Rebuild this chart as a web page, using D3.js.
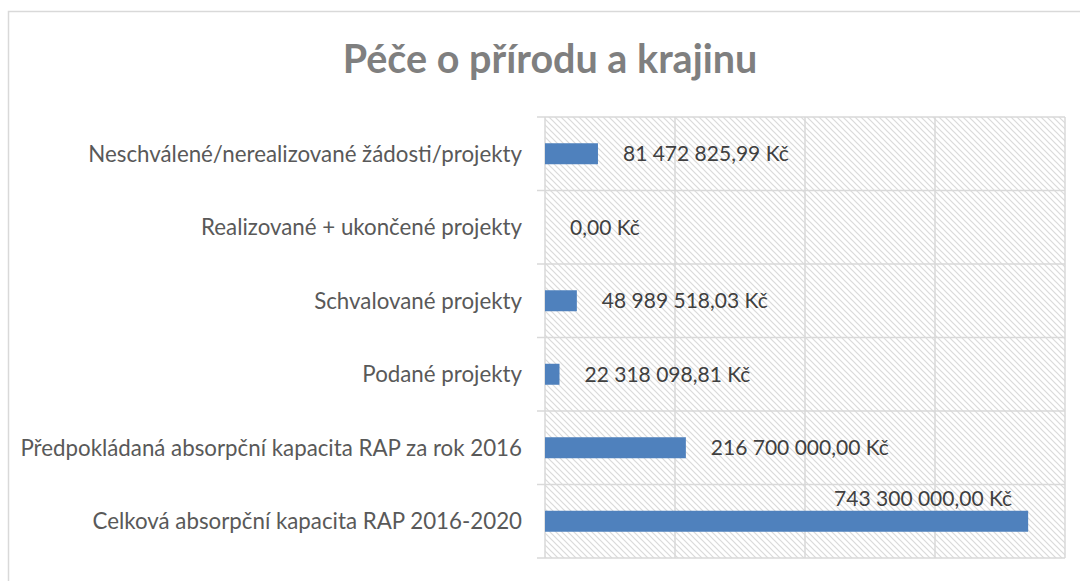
<!DOCTYPE html>
<html>
<head>
<meta charset="utf-8">
<script src="https://cdn.jsdelivr.net/npm/d3@7"></script>
<style>
  html, body { margin: 0; padding: 0; background: #ffffff; }
  svg { display: block; }
</style>
</head>
<body>
<svg id="chart" width="1080" height="581"></svg>
<script>
const title = "Péče o přírodu a krajinu";
const categories = [
  "Neschválené/nerealizované žádosti/projekty",
  "Realizované + ukončené projekty",
  "Schvalované projekty",
  "Podané projekty",
  "Předpokládaná absorpční kapacita RAP za rok 2016",
  "Celková absorpční kapacita RAP 2016-2020"
];
const values = [81472825.99, 0, 48989518.03, 22318098.81, 216700000, 743300000];
const gridTicks = [0, 200000000, 400000000, 600000000, 800000000];

const FONT = "Lato, 'Open Sans', sans-serif";
const svg = d3.select("#chart");

const plot = { left: 545, right: 1065, top: 117, bottom: 558 };

svg.append("rect").attr("x", 0).attr("y", 0).attr("width", 1080).attr("height", 581).attr("fill", "#fff");
svg.append("rect").attr("x", 8.5).attr("y", 11.5).attr("width", 1200).attr("height", 700)
  .attr("fill", "none").attr("stroke", "#d9d9d9").attr("stroke-width", 1.5);

const defs = svg.append("defs");
const pat = defs.append("pattern").attr("id", "hatch").attr("patternUnits", "userSpaceOnUse")
  .attr("width", 6).attr("height", 6);
pat.append("rect").attr("width", 6).attr("height", 6).attr("fill", "#fff");
pat.append("path").attr("d", "M0,0L6,6M-1,5L1,7M5,-1L7,1")
  .attr("stroke", "#dadada").attr("stroke-width", 1.2);

const x = d3.scaleLinear().domain([0, 800000000]).range([plot.left, plot.right]);
const y = d3.scaleBand().domain(categories).range([plot.top, plot.bottom]).paddingInner(0).paddingOuter(0);

svg.append("rect").attr("x", plot.left).attr("y", plot.top)
  .attr("width", plot.right - plot.left).attr("height", plot.bottom - plot.top)
  .attr("fill", "url(#hatch)");

svg.append("g").selectAll("line").data(gridTicks).join("line")
  .attr("x1", d => x(d)).attr("x2", d => x(d))
  .attr("y1", plot.top).attr("y2", plot.bottom)
  .attr("stroke", "#d9d9d9").attr("stroke-width", 1.5);

const bounds = categories.map(c => y(c)).concat([plot.bottom]);
svg.append("g").selectAll("line").data(bounds).join("line")
  .attr("x1", plot.left - 8).attr("x2", plot.right)
  .attr("y1", d => d).attr("y2", d => d)
  .attr("stroke", "#d9d9d9").attr("stroke-width", 1.5);

const barH = y.bandwidth() / 3.5;
svg.append("g").selectAll("rect").data(values).join("rect")
  .attr("x", x(0))
  .attr("y", (d, i) => y(categories[i]) + (y.bandwidth() - barH) / 2)
  .attr("width", d => x(d) - x(0))
  .attr("height", barH)
  .attr("fill", "#4f81bd");

svg.append("g").selectAll("text").data(categories).join("text")
  .attr("x", plot.left - 23)
  .attr("y", d => y(d) + y.bandwidth() / 2)
  .attr("dy", "0.35em")
  .attr("text-anchor", "end")
  .attr("font-family", FONT).attr("font-size", 22.3)
  .attr("fill", "#595959")
  .text(d => d);

const loc = d3.formatLocale({ decimal: ",", thousands: " ", grouping: [3], currency: ["", " Kč"] });
const fmt = loc.format(",.2f");
const vl = svg.append("g").selectAll("text").data(values).join("text")
  .attr("font-family", FONT).attr("font-size", 21)
  .attr("fill", "#404040")
  .text(d => fmt(d) + " Kč");
vl.each(function(d, i) {
  const t = d3.select(this);
  const w = this.getComputedTextLength();
  const cy = y(categories[i]) + y.bandwidth() / 2;
  if (x(d) + 25 + w > plot.right) {
    t.attr("x", x(d) - 16).attr("text-anchor", "end")
     .attr("y", cy - barH / 2 - 12).attr("dy", "0.35em");
  } else {
    t.attr("x", x(d) + 25).attr("text-anchor", "start")
     .attr("y", cy).attr("dy", "0.35em");
  }
});

svg.append("text")
  .attr("x", 550).attr("y", 73)
  .attr("text-anchor", "middle")
  .attr("font-family", FONT).attr("font-weight", "bold").attr("font-size", 39.5)
  .attr("fill", "#7f7f7f")
  .text(title);
</script>
</body>
</html>
